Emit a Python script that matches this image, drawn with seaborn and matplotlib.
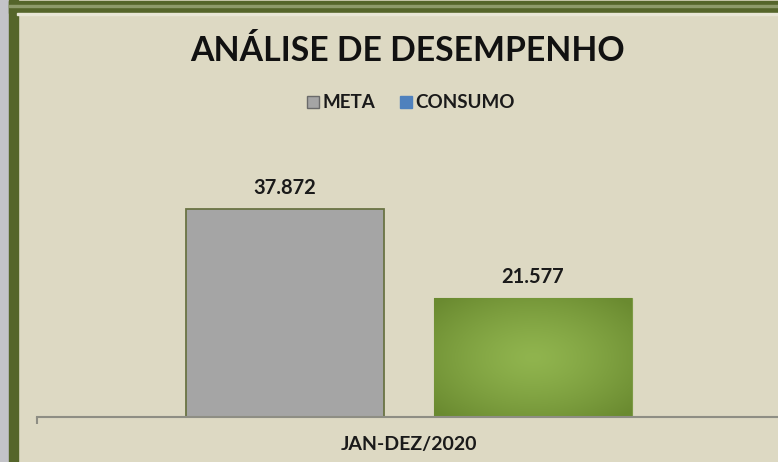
import numpy as np
import pandas as pd
import matplotlib
matplotlib.use("Agg")
import matplotlib.pyplot as plt
import seaborn as sns
from matplotlib.patches import Rectangle
from matplotlib.lines import Line2D
from matplotlib.colors import LinearSegmentedColormap

# dados do gráfico
periodo = ["JAN-DEZ/2020"]
series = ["META", "CONSUMO"]
valores = [37872, 21577]
rotulos = ["37.872", "21.577"]

df = pd.DataFrame({"periodo": periodo * len(series), "serie": series, "valor": valores})

FUNDO = "#ddd9c3"
VERDE_BORDA = "#55652a"
CORES = {"META": "#a5a5a5", "CONSUMO": "#7b9b3b"}

sns.set_theme(style="white")
plt.rcParams["font.family"] = ["Lato", "DejaVu Sans"]

W, H = 778, 462
fig = plt.figure(figsize=(W / 100, H / 100), dpi=100)
fig.patch.set_facecolor(FUNDO)

# moldura estilo planilha
def ret(x, y, w, h, cor):
    fig.patches.append(Rectangle((x / W, 1 - (y + h) / H), w / W, h / H,
                                 transform=fig.transFigure, color=cor, zorder=0))

ret(0, 0, 9, H, "#c3c3c8")
ret(9, 1, W, 12, VERDE_BORDA)
ret(9, 0, 9, H, VERDE_BORDA)
ret(9, 5, W, 1.5, "#8e9a6a")
ret(17, 13, W, 1.5, "#e8e6d6")

# eixo
ax = fig.add_axes([37 / W, 1 - 417 / H, 744 / W, 219.7 / H])
ax.set_facecolor("none")

sns.barplot(data=df, x="periodo", y="valor", hue="serie", palette=CORES,
            width=0.667, gap=0.205, ax=ax, legend=False, saturation=1)

patches = ax.patches
patches[0].set_edgecolor("#6a7444")
patches[0].set_linewidth(1.3)
patches[1].set_edgecolor("#7d9a45")
patches[1].set_linewidth(0.8)

# gradiente radial na barra verde
p = patches[1]
bb = p.get_bbox()
gx, gy = np.meshgrid(np.linspace(-1, 1, 200), np.linspace(-1, 1, 200))
r = np.clip(np.sqrt(gx ** 2 + gy ** 2) / 1.35, 0, 1) ** 1.3
cmap = LinearSegmentedColormap.from_list("grad", ["#90b44e", "#6a8a30"])
im = ax.imshow(r, extent=[bb.x0, bb.x1, bb.y0, bb.y1], aspect="auto",
               cmap=cmap, vmin=0, vmax=1, zorder=p.get_zorder() + 0.1)
im.set_clip_path(p)

ax.set_xlim(-0.5, 0.5)
ax.set_ylim(0, 40000)

for cont, lab in zip(ax.containers, rotulos):
    ax.bar_label(cont, labels=[lab], padding=8, fontsize=14.5, fontweight="bold",
                 color="#1a1a1a")

sns.despine(ax=ax, left=True, top=True, right=True)
ax.spines["bottom"].set_color("#8e8e84")
ax.spines["bottom"].set_linewidth(1.5)
ax.spines["bottom"].set_clip_on(False)
ax.set_yticks([])
ax.set_xlabel("")
ax.set_ylabel("")
ax.set_xticks([0])
ax.set_xticklabels(periodo, fontsize=14, fontweight="bold", color="#1a1a1a")
ax.set_xticks([-0.5], minor=True)
ax.tick_params(axis="x", which="major", length=0, pad=14)
ax.tick_params(axis="x", which="minor", bottom=True, length=5, width=1.5,
               color="#8e8e84", direction="out")

# titulo e legenda
fig.text(408 / W, 1 - 51 / H, "ANÁLISE DE DESEMPENHO", ha="center", va="center",
         fontsize=24.3, fontweight="bold", color="#111111")

handles = [
    Line2D([], [], marker="s", linestyle="", markersize=8.5,
           markerfacecolor="#a5a5a5", markeredgecolor="#6a6a6a"),
    Line2D([], [], marker="s", linestyle="", markersize=8.5,
           markerfacecolor="#4f81bd", markeredgecolor="#4f81bd"),
]
leg = fig.legend(handles, series, loc="center", bbox_to_anchor=(411 / W, 1 - 103 / H),
                 ncol=2, frameon=False, handlelength=0.7, handletextpad=0.15,
                 columnspacing=1.3, prop={"weight": "bold", "size": 13.5})
for t in leg.get_texts():
    t.set_color("#1a1a1a")

fig.savefig("out.png", dpi=100, facecolor=fig.get_facecolor())
